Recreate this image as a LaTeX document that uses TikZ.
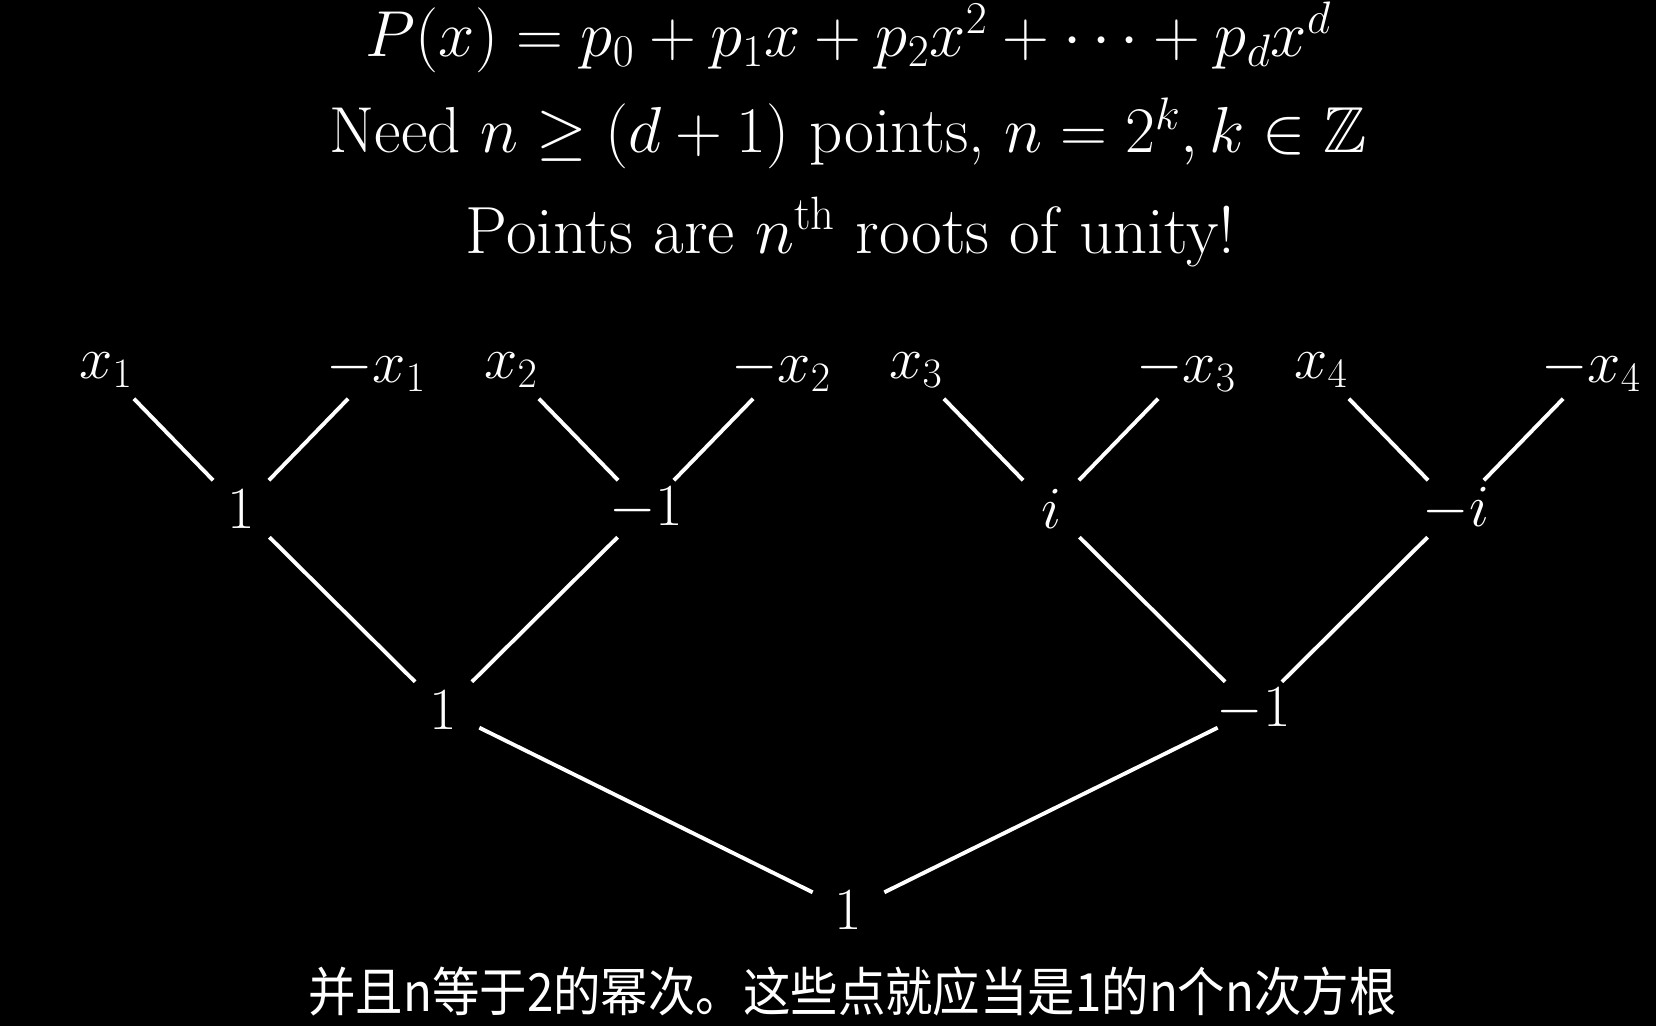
\RequirePackage{fix-cm}
\documentclass[tikz,border=0pt]{standalone}
\usepackage{amssymb}
\usepackage{fontspec}
\newfontfamily\cjk{Noto Sans CJK SC}
\begin{document}
\begin{tikzpicture}[lbl/.style={text=white,font=\fontsize{34}{40}\selectfont},
  head/.style={text=white,font=\fontsize{37}{44}\selectfont,anchor=base,inner sep=0pt},
  edge/.style={draw=white,line width=2.2pt,shorten <=0.8cm,shorten >=0.8cm}]
\fill[black] (0,0) rectangle (33.12,20.52);
\useasboundingbox (0,0) rectangle (33.12,20.52);
\node[head] (poly) at (16.97,19.38) {$P(x)=p_0+p_1x+p_2x^2+\cdots+p_dx^d$};
\node[head] (need) at (16.97,17.46) {Need $n\geq(d+1)$ points, $n=2^k,k\in\mathbb{Z}$};
\node[head,font=\fontsize{38}{44}\selectfont] (roots) at (17.01,15.44) {Points are $n^{\mathrm{th}}$ roots of unity!};
\node[lbl] (x1) at (2.12,13.12) {$x_1$};
\node[lbl] (mx1) at (7.52,13.12) {$-x_1$};
\node[lbl] (x2) at (10.22,13.12) {$x_2$};
\node[lbl] (mx2) at (15.62,13.12) {$-x_2$};
\node[lbl] (x3) at (18.32,13.12) {$x_3$};
\node[lbl] (mx3) at (23.72,13.12) {$-x_3$};
\node[lbl] (x4) at (26.42,13.12) {$x_4$};
\node[lbl] (mx4) at (31.82,13.12) {$-x_4$};
\node[lbl] (one) at (4.82,10.34) {$1$};
\node[lbl] (mone) at (12.92,10.34) {$-1$};
\node[lbl] (im) at (21.02,10.34) {$i$};
\node[lbl] (mim) at (29.12,10.34) {$-i$};
\node[lbl] (sq) at (8.87,6.32) {$1$};
\node[lbl] (msq) at (25.07,6.32) {$-1$};
\node[lbl] (root) at (16.97,2.32) {$1$};
\node[text=white,font=\cjk\fontsize{30}{34}\selectfont,xscale=0.9] (sub) at (17.05,0.7) {并且n等于2的幂次。这些点就应当是1的n个n次方根};
\draw[edge] (x1.center) -- (one.center);
\draw[edge] (mx1.center) -- (one.center);
\draw[edge] (x2.center) -- (mone.center);
\draw[edge] (mx2.center) -- (mone.center);
\draw[edge] (x3.center) -- (im.center);
\draw[edge] (mx3.center) -- (im.center);
\draw[edge] (x4.center) -- (mim.center);
\draw[edge] (mx4.center) -- (mim.center);
\draw[edge] (one.center) -- (sq.center);
\draw[edge] (mone.center) -- (sq.center);
\draw[edge] (im.center) -- (msq.center);
\draw[edge] (mim.center) -- (msq.center);
\draw[edge] (sq.center) -- (root.center);
\draw[edge] (msq.center) -- (root.center);
\end{tikzpicture}
\end{document}
